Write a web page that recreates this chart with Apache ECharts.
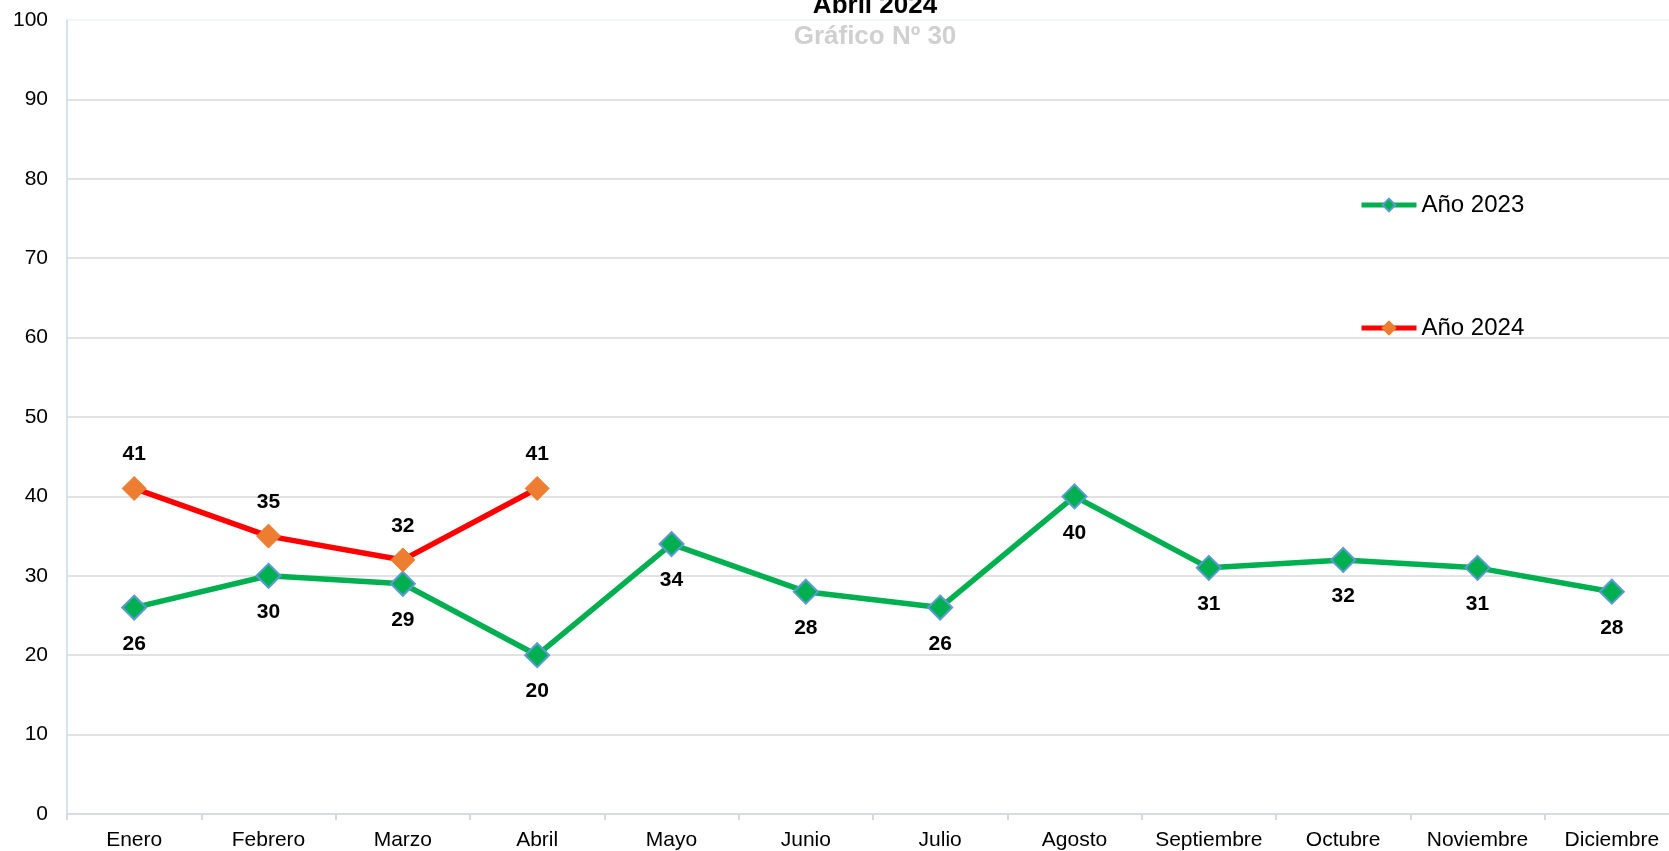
<!DOCTYPE html>
<html>
<head>
<meta charset="utf-8">
<script src="https://cdn.jsdelivr.net/npm/echarts@6/dist/echarts.min.js"></script>
<style>
html,body{margin:0;padding:0;background:#fff;overflow:hidden;}
#chart{width:1680px;height:851px;}
</style>
</head>
<body>
<div id="chart"></div>
<script>
const categories = ['Enero','Febrero','Marzo','Abril','Mayo','Junio','Julio','Agosto','Septiembre','Octubre','Noviembre','Diciembre'];
const values2023 = [26,30,29,20,34,28,26,40,31,32,31,28];
const values2024 = [41,35,32,41];
const yTicks = [0,10,20,30,40,50,60,70,80,90,100];
const titleText = 'Abril 2024';
const subtitleText = 'Gráfico Nº 30';
const seriesNames = ['Año 2023','Año 2024'];

const FONT = '"Liberation Sans", Arial, sans-serif';
const chart = echarts.init(document.getElementById('chart'), null, {renderer:'canvas'});

const gridColors = yTicks.map((t, i) => i === yTicks.length - 1 ? '#eef4fb' : '#d9d9d9');

chart.setOption({
  animation: false,
  backgroundColor: '#ffffff',
  grid: {left: 67, top: 20, bottom: 37, width: 1612, containLabel: false},
  graphic: [
    {type:'text', x: 875, y: 6, style:{text: titleText, font: 'bold 26px ' + FONT, fill:'#000', textAlign:'center', textVerticalAlign:'middle'}},
    {type:'text', x: 875, y: 37, style:{text: subtitleText, font: 'bold 26px ' + FONT, fill:'#d0d0d0', textAlign:'center', textVerticalAlign:'middle'}, z: 10}
  ],
  legend: [
    {data:[seriesNames[0]], orient:'vertical', left:1359, top:193, padding:0, itemWidth:55, itemHeight:16, itemGap:0,
     lineStyle:{width:5}, textStyle:{fontFamily:FONT, fontSize:24, color:'#000'}},
    {data:[seriesNames[1]], orient:'vertical', left:1359, top:316, padding:0, itemWidth:55, itemHeight:16, itemGap:0,
     lineStyle:{width:5}, textStyle:{fontFamily:FONT, fontSize:24, color:'#000'}}
  ],
  xAxis: {
    type:'category', data: categories, boundaryGap:true,
    axisLine:{lineStyle:{color:'#d6dce4', width:2}},
    axisTick:{show:true, length:6, lineStyle:{color:'#d9d9d9', width:2}},
    axisLabel:{fontFamily:FONT, fontSize:21, color:'#000', margin:16, interval:0},
    splitLine:{show:false}
  },
  yAxis: {
    type:'value', min:0, max:100, interval:10,
    axisLine:{show:true, lineStyle:{color:'#c6d9f0', width:1.5}},
    axisTick:{show:false},
    axisLabel:{fontFamily:FONT, fontSize:21, color:'#000', margin:19},
    splitLine:{show:true, lineStyle:{color:gridColors, width:1.5}}
  },
  series: [
    {
      name: seriesNames[0], type:'line', data: values2023,
      symbol:'diamond', symbolSize:24,
      lineStyle:{color:'#00b050', width:5.5},
      itemStyle:{color:'#00b050', borderColor:'#5b9bd5', borderWidth:2},
      label:{show:true, position:'bottom', distance:13, fontFamily:FONT, fontSize:21, fontWeight:'bold', color:'#000'},
      z: 2
    },
    {
      name: seriesNames[1], type:'line', data: values2024,
      symbol:'diamond', symbolSize:24,
      lineStyle:{color:'#ff0000', width:5.5},
      itemStyle:{color:'#ed7d31', borderColor:'#ed7d31', borderWidth:1},
      label:{show:true, position:'top', distance:11, fontFamily:FONT, fontSize:21, fontWeight:'bold', color:'#000'},
      z: 3
    }
  ]
});
</script>
</body>
</html>
